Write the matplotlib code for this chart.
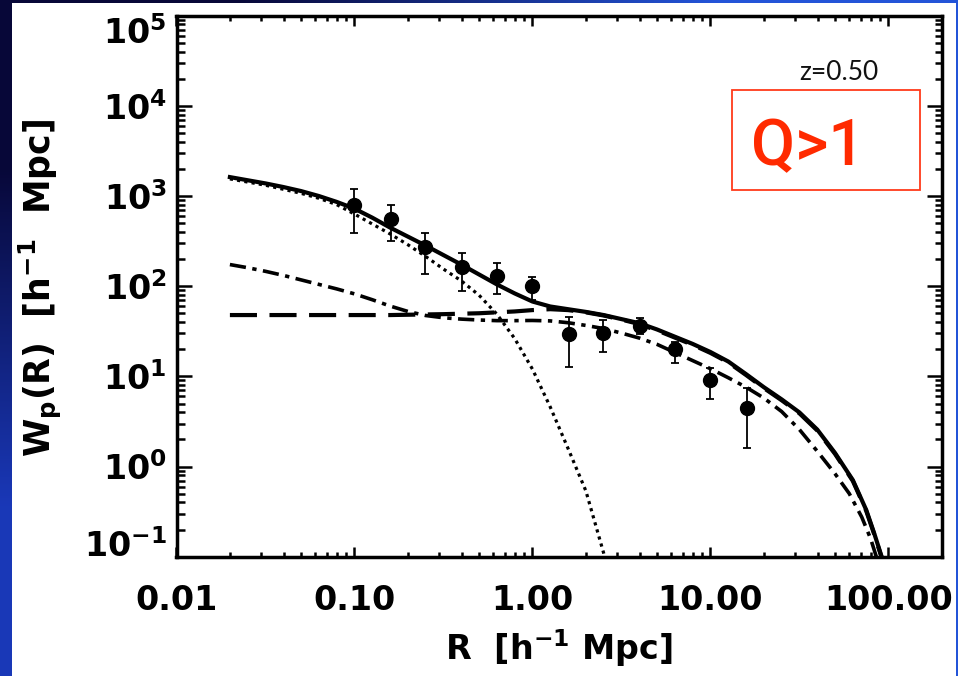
import numpy as np
import matplotlib
matplotlib.use('Agg')
import matplotlib.pyplot as plt
from matplotlib.patches import Rectangle
from matplotlib.ticker import LogLocator, NullFormatter

plt.rcParams['mathtext.fontset'] = 'custom'
plt.rcParams['mathtext.rm'] = 'DejaVu Sans:bold'
plt.rcParams['mathtext.it'] = 'DejaVu Sans:bold'
plt.rcParams['mathtext.bf'] = 'DejaVu Sans:bold'

# measured w_p(R) points with error bars
r_obs = [0.10, 0.16, 0.25, 0.40, 0.63, 1.0, 1.6, 2.5, 4.0, 6.3, 10.0, 16.0]
wp_obs = [794, 555, 269, 164, 131, 100, 29.5, 30.5, 36.5, 20.0, 9.2, 4.5]
wp_hi = [1195, 794, 388, 233, 181, 127, 46, 42.5, 44.8, 24.0, 12.3, 7.4]
wp_lo = [386, 318, 138, 89, 82, 71, 12.6, 18.8, 29.5, 14.1, 5.6, 1.6]

# model curves as log10(R), log10(w_p)
# total (solid)
lr_tot = [-1.70, -1.60, -1.50, -1.40, -1.30, -1.20, -1.10, -1.00, -0.90, -0.80,
          -0.70, -0.60, -0.50, -0.40, -0.30, -0.20, -0.10, 0.00, 0.10, 0.20,
          0.30, 0.40, 0.50, 0.60, 0.70, 0.80, 0.90, 1.00, 1.10, 1.20,
          1.30, 1.40, 1.50, 1.60, 1.70, 1.80, 1.875, 1.92, 1.97]
lw_tot = [3.21, 3.175, 3.14, 3.10, 3.055, 3.00, 2.935, 2.86, 2.76, 2.65,
          2.55, 2.45, 2.345, 2.24, 2.13, 2.02, 1.92, 1.83, 1.775, 1.745,
          1.715, 1.68, 1.635, 1.59, 1.52, 1.44, 1.36, 1.27, 1.165, 1.025,
          0.88, 0.745, 0.60, 0.41, 0.15, -0.15, -0.48, -0.74, -1.05]

# one-halo term (dotted)
lr_1h = [-1.70, -1.50, -1.30, -1.20, -1.10, -1.00, -0.90, -0.80, -0.70, -0.60,
         -0.50, -0.40, -0.30, -0.20, -0.10, 0.00, 0.10, 0.20, 0.30, 0.40, 0.41]
lw_1h = [3.19, 3.12, 3.03, 2.975, 2.905, 2.80, 2.69, 2.58, 2.46, 2.33,
         2.19, 2.06, 1.90, 1.69, 1.42, 1.08, 0.66, 0.20, -0.27, -0.96, -1.04]

# two-halo term (dashed)
lr_2h = [-1.70, -1.20, -0.80, -0.50, -0.30, -0.20, -0.10, 0.00, 0.10, 0.20,
         0.30, 0.40, 0.50, 0.60, 0.70, 0.80, 0.90, 1.00, 1.10, 1.20,
         1.30, 1.40, 1.50, 1.60, 1.70, 1.80, 1.875, 1.92, 1.97]
lw_2h = [1.68, 1.68, 1.68, 1.69, 1.70, 1.71, 1.72, 1.735, 1.745, 1.735,
         1.71, 1.675, 1.63, 1.58, 1.51, 1.43, 1.35, 1.26, 1.155, 1.015,
         0.87, 0.735, 0.59, 0.40, 0.14, -0.16, -0.49, -0.75, -1.06]

# dash-dot model
lr_dd = [-1.70, -1.60, -1.50, -1.40, -1.30, -1.20, -1.10, -1.00, -0.90, -0.80,
         -0.70, -0.60, -0.50, -0.40, -0.30, -0.20, -0.10, 0.00, 0.10, 0.20,
         0.30, 0.40, 0.50, 0.60, 0.70, 0.80, 0.90, 1.00, 1.10, 1.20,
         1.30, 1.40, 1.50, 1.60, 1.70, 1.78, 1.85, 1.90, 1.94]
lw_dd = [2.24, 2.205, 2.165, 2.12, 2.07, 2.02, 1.97, 1.915, 1.85, 1.78,
         1.72, 1.675, 1.65, 1.635, 1.625, 1.618, 1.618, 1.62, 1.615, 1.595,
         1.565, 1.53, 1.48, 1.425, 1.355, 1.265, 1.175, 1.085, 0.985, 0.88,
         0.76, 0.61, 0.41, 0.17, -0.08, -0.30, -0.56, -0.80, -1.05]

x_ticks = [0.01, 0.1, 1, 10, 100]
x_ticklabels = ['0.01', '0.10', '1.00', '10.00', '100.00']
y_ticks = [1e-1, 1e0, 1e1, 1e2, 1e3, 1e4, 1e5]
y_ticklabels = [r'$\mathrm{10^{-1}}$', r'$\mathrm{10^{0}}$', r'$\mathrm{10^{1}}$',
                r'$\mathrm{10^{2}}$', r'$\mathrm{10^{3}}$', r'$\mathrm{10^{4}}$',
                r'$\mathrm{10^{5}}$']

W, H = 958, 676
fig = plt.figure(figsize=(W / 100, H / 100), dpi=100)

# slide background: blue gradient behind a white sheet
bg = fig.add_axes([0, 0, 1, 1], zorder=-10)
bg.axis('off')
grad = np.array([[[0.03, 0.03, 0.22], [0.14, 0.33, 0.85]],
                 [[0.10, 0.22, 0.72], [0.14, 0.33, 0.85]]])
bg.imshow(grad, extent=[0, 1, 0, 1], aspect='auto', interpolation='bilinear')
bg.set_xlim(0, 1)
bg.set_ylim(0, 1)
bg.add_patch(Rectangle((12 / W, 0), (956 - 12) / W, (H - 3) / H,
                       facecolor='white', edgecolor='none'))

ax = fig.add_axes([176.5 / W, 1 - 556.7 / H, (942 - 176.5) / W, (556.7 - 15.7) / H])
ax.set_xscale('log')
ax.set_yscale('log')

ax.plot(np.power(10, lr_1h), np.power(10, lw_1h), color='black', lw=2.3, dashes=(1, 1.3))
ax.plot(np.power(10, lr_2h), np.power(10, lw_2h), color='black', lw=3.0, dashes=(6.5, 3.0))
ax.plot(np.power(10, lr_dd), np.power(10, lw_dd), color='black', lw=2.6,
        dashes=(4.5, 1.8, 1.2, 1.8))
ax.plot(np.power(10, lr_tot), np.power(10, lw_tot), color='black', lw=3.0)

yerr = [np.array(wp_obs) - np.array(wp_lo), np.array(wp_hi) - np.array(wp_obs)]
ax.errorbar(r_obs, wp_obs, yerr=yerr, fmt='o', color='black', ms=10,
            elinewidth=1.3, capsize=3, capthick=1.3, zorder=5)

ax.set_xlim(0.01, 200)
ax.set_ylim(0.1, 1e5)

ax.set_xticks(x_ticks)
ax.set_xticklabels(x_ticklabels, fontsize=24, fontweight='bold')
ax.set_yticks(y_ticks)
ax.set_yticklabels(y_ticklabels, fontsize=24)
ax.xaxis.set_minor_locator(LogLocator(base=10, subs=range(2, 10), numticks=30))
ax.yaxis.set_minor_locator(LogLocator(base=10, subs=range(2, 10), numticks=30))
ax.xaxis.set_minor_formatter(NullFormatter())
ax.yaxis.set_minor_formatter(NullFormatter())

ax.tick_params(axis='x', which='major', direction='in', length=7.5, width=1.8,
               top=True, bottom=True, pad=20)
ax.tick_params(axis='x', which='minor', direction='in', length=3.6, width=1.8,
               top=True, bottom=True)
ax.tick_params(axis='y', which='major', direction='in', length=10.8, width=1.8,
               left=True, right=True, pad=7)
ax.tick_params(axis='y', which='minor', direction='in', length=5.4, width=1.8,
               left=True, right=True)
for s in ax.spines.values():
    s.set_linewidth(2.5)

ylabs = ax.get_yticklabels()
ylabs[0].set_va('baseline')
ylabs[-1].set_va('top')

fig.text(559 / W, 1 - 648 / H, r'R  [h$^{-1}$ Mpc]', fontsize=24, fontweight='bold',
         ha='center', va='center')
fig.text(40 / W, 1 - 288 / H, r'W$_{p}$(R)  [h$^{-1}$  Mpc]', fontsize=25,
         fontweight='bold', rotation=90, ha='center', va='center')

# annotation box
fig.text(839 / W, 1 - 80 / H, 'z=0.50', fontsize=19, family=['Lato', 'DejaVu Sans'],
         color='#111111', ha='center', va='baseline')
fig.patches.append(Rectangle((731.7 / W, 1 - 190 / H), (920 - 731.7) / W, 100 / H,
                             transform=fig.transFigure, fill=False,
                             edgecolor='#ff3a1a', lw=1.3))
fig.text(808 / W, 1 - 165 / H, 'Q>1', fontsize=46, fontweight='medium',
         family=['Roboto', 'DejaVu Sans'], color='#ff2a00',
         ha='center', va='baseline')

fig.savefig('out.png', dpi=100)
